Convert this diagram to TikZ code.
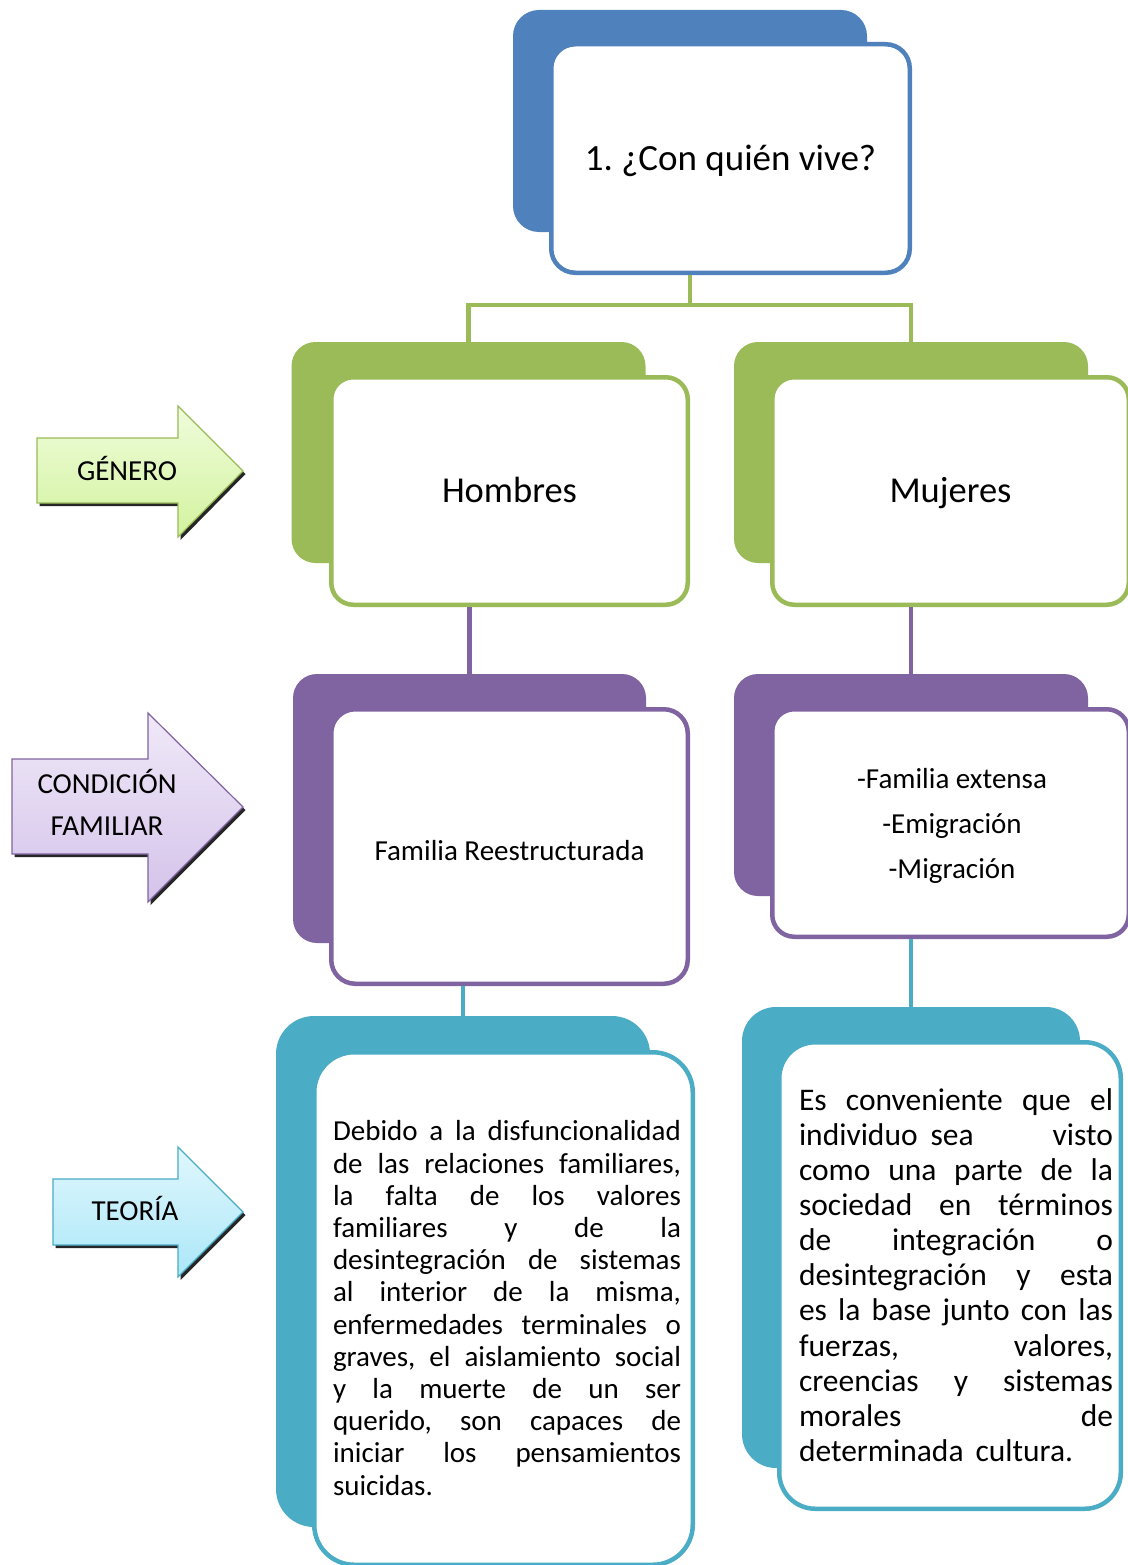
\documentclass[tikz,border=0pt]{standalone}
\usepackage{fontspec}
\setmainfont{Carlito}
\usetikzlibrary{calc}

\definecolor{accblue}{HTML}{4F81BD}
\definecolor{accgreen}{HTML}{9BBB59}
\definecolor{accpurple}{HTML}{8064A2}
\definecolor{accteal}{HTML}{4BACC6}
\definecolor{greentop}{HTML}{EFFCDB}
\definecolor{greenbot}{HTML}{D3F39F}
\definecolor{purpletop}{HTML}{F0E9F8}
\definecolor{purplebot}{HTML}{D4C3EA}
\definecolor{tealtop}{HTML}{E0F7FD}
\definecolor{tealbot}{HTML}{ABE7F8}

% one justified line: spaces keep their width and share the leftover room
\newcommand\jl[1]{\hbox to\hsize{\frenchspacing\spaceskip=0.226em plus 1fil\relax#1}}

\tikzset{
  backbox/.style={fill=#1, draw=none, inner sep=0pt},
  frontbox/.style={fill=white, draw=#1, line width=4.5pt, inner sep=0pt},
  link/.style={draw=#1, line width=4.5pt},
  arrowlabel/.style={inner sep=0pt, align=center, font=\fontsize{29}{42}\selectfont},
  arrowshadow/.style={fill=black, opacity=0.85},
}

\begin{document}
\begin{tikzpicture}[x=1pt, y=-1pt]
\useasboundingbox (0,0) rectangle (1127,1565);
\fill[white] (0,0) rectangle (1127,1565);

% ---- side arrows ----
\fill[arrowshadow, shift={(2.5,3)}] (37,438) -- (178,438) -- (178,406) -- (243,471) -- (178,537) -- (178,503) -- (37,503) -- cycle;
\shadedraw[top color=greentop, bottom color=greenbot, draw=accgreen, line width=1.2pt]
  (37,438) -- (178,438) -- (178,406) -- (243,471) -- (178,537) -- (178,503) -- (37,503) -- cycle;
\node[arrowlabel] (genero) at (127,468) {GÉNERO};

\fill[arrowshadow, shift={(2.5,3)}] (12,759) -- (148,759) -- (148,713) -- (243,807) -- (148,902) -- (148,854) -- (12,854) -- cycle;
\shadedraw[top color=purpletop, bottom color=purplebot, draw=accpurple, line width=1.2pt]
  (12,759) -- (148,759) -- (148,713) -- (243,807) -- (148,902) -- (148,854) -- (12,854) -- cycle;
\node[arrowlabel] (condicion) at (107,802) {CONDICIÓN\\FAMILIAR};

\fill[arrowshadow, shift={(2.5,3)}] (53,1179) -- (178,1179) -- (178,1147) -- (243,1212) -- (178,1277) -- (178,1245) -- (53,1245) -- cycle;
\shadedraw[top color=tealtop, bottom color=tealbot, draw=accteal, line width=1.2pt]
  (53,1179) -- (178,1179) -- (178,1147) -- (243,1212) -- (178,1277) -- (178,1245) -- (53,1245) -- cycle;
\node[arrowlabel] (teoria) at (135,1208) {TEORÍA};

% ---- back plates ----
\node[backbox=accblue, rounded corners=26pt, minimum width=354pt, minimum height=222pt] (qb) at (690,121) {};
\node[backbox=accgreen, rounded corners=24pt, minimum width=354pt, minimum height=221pt] (hb) at (468.5,452.5) {};
\node[backbox=accgreen, rounded corners=24pt, minimum width=354pt, minimum height=221pt] (mb) at (911,452.5) {};
\node[backbox=accpurple, rounded corners=24pt, minimum width=353pt, minimum height=269pt] (fb) at (469.5,808.5) {};
\node[backbox=accpurple, rounded corners=24pt, minimum width=354pt, minimum height=222pt] (eb) at (911,785) {};
\node[backbox=accteal, rounded corners=38pt, minimum width=374pt, minimum height=511pt] (tb) at (463,1271.5) {};
\node[backbox=accteal, rounded corners=34pt, minimum width=338pt, minimum height=461pt] (sb) at (911,1237.5) {};

% ---- front cards ----
\node[frontbox=accblue, rounded corners=24pt, minimum width=358.5pt, minimum height=228.5pt,
      font=\fontsize{37}{44}\selectfont\frenchspacing, text height=30pt, text depth=5pt] (q) at (730.5,158.5) {1. ¿Con quién vive?};
\node[frontbox=accgreen, rounded corners=22pt, minimum width=356.5pt, minimum height=227.5pt,
      font=\fontsize{36.5}{44}\selectfont, text height=25pt, text depth=3pt] (h) at (509.5,491) {Hombres};
\node[frontbox=accgreen, rounded corners=22pt, minimum width=356.5pt, minimum height=227.5pt,
      font=\fontsize{36.5}{44}\selectfont, text height=25pt, text depth=3pt] (m) at (950.5,491) {Mujeres};
\node[frontbox=accpurple, rounded corners=24pt, minimum width=356.5pt, minimum height=274.5pt,
      font=\fontsize{29}{35}\selectfont, text height=27pt, text depth=0pt] (f) at (509.5,846.5) {Familia Reestructurada};
\node[frontbox=accpurple, rounded corners=22pt, minimum width=356.5pt, minimum height=227.5pt] (e) at (950.5,823) {};
\node[frontbox=accteal, rounded corners=40pt, minimum width=378.5pt, minimum height=512.5pt] (t) at (503.5,1308.5) {};
\node[frontbox=accteal, rounded corners=36pt, minimum width=341.5pt, minimum height=466.5pt] (s) at (950,1275.5) {};

% ---- connectors ----
\path[link=accgreen] (qb |- q.south) -- ++(0,30) -| ([yshift=-2pt]hb.north);
\path[link=accgreen] (qb |- q.south) -- ++(0,30) -| ([yshift=-2pt]mb.north);
\path[link=accpurple] (fb |- h.south) -- ([yshift=-6pt]fb.north);
\path[link=accpurple] (eb |- m.south) -- ([yshift=-6pt]eb.north);
\path[link=accteal] (tb |- f.south) -- ([yshift=-6pt]tb.north);
\path[link=accteal] (sb |- e.south) -- ([yshift=-6pt]sb.north);

% ---- card texts ----
\node[inner sep=0pt, align=center, font=\fontsize{29}{45}\selectfont] (etext) at (952,826)
  {-Familia extensa\\-Emigración\\-Migración};

\node[inner sep=0pt] (ttext) at (507,1308) {\vbox{\hsize=348pt\fontsize{29}{32.2}\selectfont
  \jl{Debido a la disfuncionalidad}
  \jl{de las relaciones familiares,}
  \jl{la falta de los valores}
  \jl{familiares y de la}
  \jl{desintegración de sistemas}
  \jl{al interior de la misma,}
  \jl{enfermedades terminales o}
  \jl{graves, el aislamiento social}
  \jl{y la muerte de un ser}
  \jl{querido, son capaces de}
  \jl{iniciar los pensamientos}
  \hbox{suicidas.}}};

\node[inner sep=0pt] (stext) at (956,1275) {\vbox{\hsize=314pt\fontsize{31.5}{35.1}\selectfont
  \jl{Es conveniente que el}
  \hbox to\hsize{individuo\hspace{13pt}sea\hfill visto}
  \jl{como una parte de la}
  \jl{sociedad en términos}
  \jl{de integración o}
  \jl{desintegración y esta}
  \jl{es la base junto con las}
  \jl{fuerzas, valores,}
  \jl{creencias y sistemas}
  \jl{morales de}
  \hbox{determinada\hspace{12pt}cultura.}}};
\end{tikzpicture}
\end{document}
